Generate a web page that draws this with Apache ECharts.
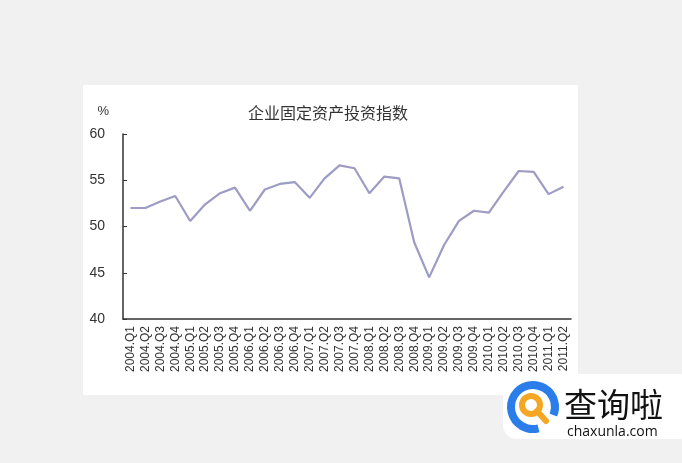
<!DOCTYPE html>
<html><head><meta charset="utf-8">
<script src="https://cdn.jsdelivr.net/npm/echarts@6/dist/echarts.min.js"></script>
<style>html,body{margin:0;padding:0;background:#f1f1f1;}#c{width:682px;height:463px;}</style>
</head><body><div id="c"></div>
<script>
const categories = ["2004.Q1","2004.Q2","2004.Q3","2004.Q4","2005.Q1","2005.Q2","2005.Q3","2005.Q4","2006.Q1","2006.Q2","2006.Q3","2006.Q4","2007.Q1","2007.Q2","2007.Q3","2007.Q4","2008.Q1","2008.Q2","2008.Q3","2008.Q4","2009.Q1","2009.Q2","2009.Q3","2009.Q4","2010.Q1","2010.Q2","2010.Q3","2010.Q4","2011.Q1","2011.Q2"];
const indexValues = [52.0,52.0,52.7,53.3,50.6,52.4,53.6,54.2,51.7,54.0,54.6,54.8,53.1,55.2,56.6,56.3,53.6,55.4,55.2,48.3,44.5,48.0,50.6,51.7,51.5,53.8,56.0,55.9,53.5,54.3];
const yMin = 40, yMax = 60, yStep = 5;
const titleText = "企业固定资产投资指数";

const chart = echarts.init(document.getElementById('c'));
chart.setOption({
  backgroundColor: '#f1f1f1',
  animation: false,
  title: {
    text: titleText, left: 323, top: 100, textAlign: 'center',
    textStyle: {fontFamily: 'Noto Sans CJK SC', fontSize: 16, fontWeight: 'normal', color: '#333'}
  },
  grid: {left: 123, right: 111, top: 134, bottom: 144},
  xAxis: {
    type: 'category', data: categories, boundaryGap: true,
    axisLine: {lineStyle: {color: '#333', width: 1.5}},
    axisTick: {inside: true, length: 4, alignWithLabel: false, lineStyle: {color: '#333'}},
    axisLabel: {rotate: 90, interval: 0, fontSize: 12, color: '#333', margin: 7, fontFamily: 'Liberation Sans'},
    splitLine: {show: false}
  },
  yAxis: {
    type: 'value', min: yMin, max: yMax, interval: yStep,
    name: '%', nameLocation: 'end', nameGap: 16,
    nameTextStyle: {color: '#333', fontSize: 13, fontFamily: 'Liberation Sans', align: 'right', padding: [0, 14, 0, 0]},
    axisLine: {show: true, lineStyle: {color: '#333', width: 1.5}},
    axisTick: {show: true, inside: true, length: 4, lineStyle: {color: '#333'}},
    axisLabel: {fontSize: 14, color: '#333', margin: 18, fontFamily: 'Liberation Sans'},
    splitLine: {show: false}
  },
  series: [{
    type: 'line', data: indexValues, symbol: 'none',
    lineStyle: {color: '#9c9cc4', width: 2.2}
  }],
  graphic: [
    {type: 'rect', z: -10, shape: {x: 83, y: 85, width: 495, height: 310}, style: {fill: '#ffffff'}},
    {type: 'rect', z: 10, shape: {x: 503, y: 374, width: 190, height: 65, r: 14}, style: {fill: '#ffffff'}},
    {type: 'arc', z: 11, shape: {cx: 533, cy: 407, r: 22, startAngle: Math.PI * 0.42, endAngle: Math.PI * 0.12, clockwise: true}, style: {stroke: '#2b7de9', lineWidth: 8, fill: null}},
    {type: 'circle', z: 11, shape: {cx: 531, cy: 405, r: 9}, style: {stroke: '#f5a623', lineWidth: 6, fill: null}},
    {type: 'line', z: 11, shape: {x1: 537, y1: 411, x2: 546, y2: 421}, style: {stroke: '#f5a623', lineWidth: 6, lineCap: 'round'}},
    {type: 'text', z: 11, style: {x: 564, y: 404, text: '查询啦', fontSize: 33, fontFamily: 'Noto Sans CJK SC', fill: '#111', textVerticalAlign: 'middle'}},
    {type: 'text', z: 11, style: {x: 567, y: 432, text: 'chaxunla.com', fontSize: 14, fontFamily: 'Open Sans', fill: '#111', textVerticalAlign: 'middle'}}
  ]
});
</script></body></html>
